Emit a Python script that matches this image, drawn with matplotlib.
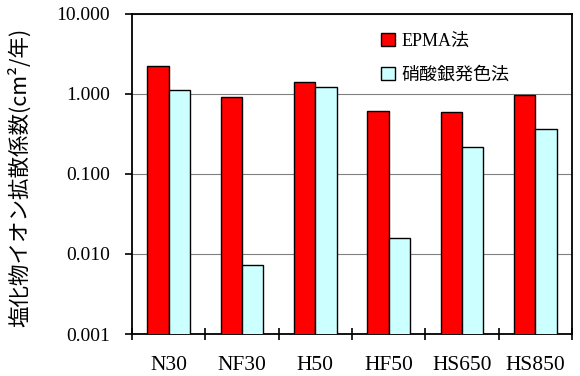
import matplotlib
matplotlib.use("Agg")
import matplotlib.pyplot as plt
import numpy as np
from matplotlib.ticker import FixedLocator, FuncFormatter

plt.rcParams['font.family'] = ['Liberation Serif', 'Noto Sans CJK JP', 'DejaVu Sans']

categories = ["N30", "NF30", "H50", "HF50", "HS650", "HS850"]
epma = [2.26, 0.92, 1.43, 0.61, 0.59, 0.96]
silver_nitrate = [1.12, 0.0073, 1.23, 0.016, 0.22, 0.36]
series_names = ["EPMA法", "硝酸銀発色法"]
y_ticks = [0.001, 0.01, 0.1, 1, 10]
y_label = "塩化物イオン拡散係数(cm²/年)"

fig = plt.figure(figsize=(5.8, 3.76), dpi=100)
ax = fig.add_axes([0.2276, 0.1117, 0.7586, 0.8511])

x = np.arange(len(categories))
w = 0.29
ax.bar(x - w / 2, epma, width=w, color="#FF0000", edgecolor="black",
       linewidth=1.0, label=series_names[0], zorder=3)
ax.bar(x + w / 2, silver_nitrate, width=w, color="#CCFFFF", edgecolor="black",
       linewidth=1.0, label=series_names[1], zorder=3)

ax.set_yscale("log")
ax.set_ylim(0.001, 10)
ax.set_xlim(-0.5, len(categories) - 0.5)

ax.yaxis.set_major_locator(FixedLocator(y_ticks))
ax.yaxis.set_minor_locator(FixedLocator([]))
ax.yaxis.set_major_formatter(FuncFormatter(lambda v, p: f"{v:.3f}"))
ax.tick_params(axis="y", which="major", direction="out", length=5, width=1.2,
               labelsize=14, pad=11)

ax.set_xticks(x)
ax.set_xticklabels(categories)
ax.set_xticks(np.arange(len(categories) + 1) - 0.5, minor=True)
ax.tick_params(axis="x", which="major", length=0, labelsize=15.5, pad=16)
ax.tick_params(axis="x", which="minor", direction="inout", length=9, width=1.2)

ax.grid(axis="y", which="major", color="#808080", linewidth=0.8, zorder=0)
for s in ax.spines.values():
    s.set_linewidth(1.3)
    s.set_color("black")

ax.set_ylabel(y_label, fontsize=15.5, family=['Noto Sans CJK JP', 'DejaVu Sans'])
ax.yaxis.set_label_coords(-0.23, 0.49)

leg = ax.legend(loc="upper left", bbox_to_anchor=(0.55, 0.965), frameon=False,
                handlelength=0.75, handleheight=0.75,
                handletextpad=0.35, labelspacing=0.95, borderaxespad=0,
                prop={'family': ['Liberation Serif', 'Noto Sans CJK JP'], 'size': 13})

fig.savefig("out.png", dpi=100)
